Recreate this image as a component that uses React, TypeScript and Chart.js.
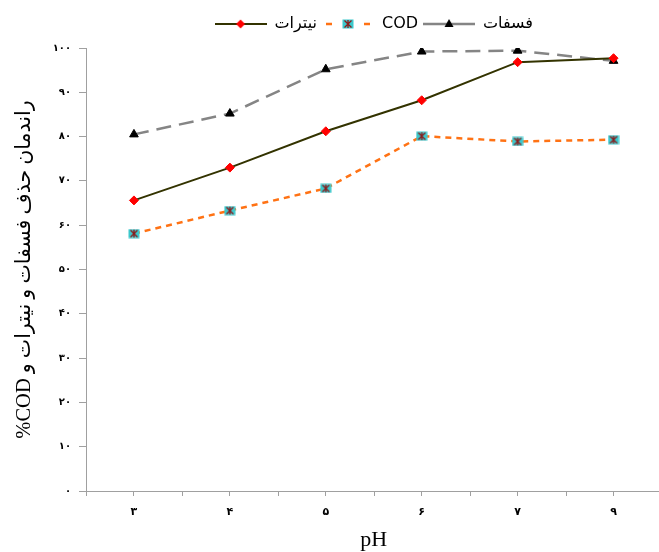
import React, { useEffect, useRef } from 'react';
import { Chart, registerables } from 'chart.js';

Chart.register(...registerables);

const categories = ['۳', '۴', '۵', '۶', '۷', '۹'];
const nitrate = [65.6, 73.0, 81.2, 88.2, 96.8, 97.7];
const cod = [58.1, 63.3, 68.3, 80.1, 78.9, 79.3];
const phosphate = [80.5, 85.2, 95.2, 99.2, 99.4, 97.1];
const seriesNames = ['نیترات', 'COD', 'فسفات'];
const yTickLabels = ['۰', '۱۰', '۲۰', '۳۰', '۴۰', '۵۰', '۶۰', '۷۰', '۸۰', '۹۰', '۱۰۰'];
const xTitle = 'pH';
const yTitle = '\u202Bراندمان حذف فسفات و نیترات و COD%\u202C';

const axisColor = '#a0a0a0';
const nitrateColor = '#333300';
const codColor = '#ff7214';
const phosColor = '#858585';

function makeCanvas(w: number, h: number) {
  const c = document.createElement('canvas');
  c.width = w;
  c.height = h;
  return c;
}

function drawCodMarker(ctx: CanvasRenderingContext2D, cx: number, cy: number) {
  ctx.fillStyle = '#3cc8cc';
  ctx.fillRect(cx - 5.5, cy - 4.5, 11, 9);
  ctx.strokeStyle = '#8b1c1c';
  ctx.lineWidth = 1.3;
  ctx.beginPath();
  ctx.moveTo(cx - 3.5, cy - 3.5);
  ctx.lineTo(cx + 3.5, cy + 3.5);
  ctx.moveTo(cx + 3.5, cy - 3.5);
  ctx.lineTo(cx - 3.5, cy + 3.5);
  ctx.moveTo(cx, cy - 4);
  ctx.lineTo(cx, cy + 4);
  ctx.stroke();
}

function drawDiamond(ctx: CanvasRenderingContext2D, cx: number, cy: number, r: number) {
  ctx.fillStyle = '#ff0000';
  ctx.beginPath();
  ctx.moveTo(cx, cy - r);
  ctx.lineTo(cx + r, cy);
  ctx.lineTo(cx, cy + r);
  ctx.lineTo(cx - r, cy);
  ctx.closePath();
  ctx.fill();
}

function drawTriangle(ctx: CanvasRenderingContext2D, cx: number, cy: number, r: number) {
  ctx.fillStyle = '#000000';
  ctx.beginPath();
  ctx.moveTo(cx, cy - r);
  ctx.lineTo(cx + r, cy + r * 0.8);
  ctx.lineTo(cx - r, cy + r * 0.8);
  ctx.closePath();
  ctx.fill();
}

function makeCodPoint() {
  const c = makeCanvas(12, 10);
  const ctx = c.getContext('2d')!;
  drawCodMarker(ctx, 6, 5);
  return c;
}

function makeLegendSymbol(kind: number) {
  const w = 52;
  const h = 14;
  const c = makeCanvas(w, h);
  const ctx = c.getContext('2d')!;
  const cy = 7;
  ctx.lineWidth = kind === 0 ? 2 : 2.5;
  ctx.strokeStyle = kind === 0 ? nitrateColor : kind === 1 ? codColor : phosColor;
  if (kind === 1) {
    ctx.beginPath();
    ctx.moveTo(4, cy);
    ctx.lineTo(10, cy);
    ctx.moveTo(42, cy);
    ctx.lineTo(48, cy);
    ctx.stroke();
    drawCodMarker(ctx, 26, cy);
  } else {
    ctx.beginPath();
    ctx.moveTo(0, cy);
    ctx.lineTo(w, cy);
    ctx.stroke();
    if (kind === 0) drawDiamond(ctx, 26, cy, 4.5);
    else drawTriangle(ctx, 26, cy - 0.5, 4.5);
  }
  return c;
}

const boundaryTicks = {
  id: 'boundaryTicks',
  afterDraw(chart: any) {
    const s = chart.scales.x;
    const ctx = chart.ctx;
    const p0 = s.getPixelForValue(0);
    const half = (s.getPixelForValue(1) - p0) / 2;
    ctx.save();
    ctx.strokeStyle = axisColor;
    ctx.lineWidth = 1;
    for (let i = 0; i <= categories.length; i++) {
      const x = Math.round(p0 - half + i * 2 * half) + 0.5;
      ctx.beginPath();
      ctx.moveTo(x, s.top);
      ctx.lineTo(x, s.top + 5);
      ctx.stroke();
    }
    ctx.restore();
  },
};

export default function App() {
  const ref = useRef<HTMLCanvasElement>(null);

  useEffect(() => {
    if (!ref.current) return;
    const codPoint = makeCodPoint();
    const legendSymbols = [makeLegendSymbol(0), makeLegendSymbol(1), makeLegendSymbol(2)];

    const chart = new Chart(ref.current, {
      type: 'line',
      data: {
        labels: categories,
        datasets: [
          {
            label: seriesNames[0],
            data: nitrate,
            borderColor: nitrateColor,
            borderWidth: 2,
            pointStyle: 'rectRot',
            pointRadius: 4.5,
            pointBackgroundColor: '#ff0000',
            pointBorderColor: '#ff0000',
            pointBorderWidth: 1,
            tension: 0,
          },
          {
            label: seriesNames[1],
            data: cod,
            borderColor: codColor,
            borderWidth: 2.5,
            borderDash: [6, 5],
            pointStyle: codPoint as any,
            pointRadius: 5,
            tension: 0,
          },
          {
            label: seriesNames[2],
            data: phosphate,
            borderColor: phosColor,
            borderWidth: 2.5,
            borderDash: [15, 8],
            pointStyle: 'triangle',
            pointRadius: 5,
            pointBackgroundColor: '#000000',
            pointBorderColor: '#000000',
            pointBorderWidth: 1,
            tension: 0,
          },
        ],
      },
      options: {
        animation: false,
        responsive: false,
        devicePixelRatio: 1,
        layout: { padding: { top: 11, left: 0, right: 0, bottom: 0 } },
        plugins: {
          tooltip: { enabled: false },
          subtitle: {
            display: true,
            text: '',
            weight: 500,
            position: 'top',
            padding: 0,
            font: { size: 6, lineHeight: 1 },
          } as any,
          legend: {
            display: true,
            position: 'top',
            fullSize: false,
            labels: {
              usePointStyle: true,
              pointStyleWidth: 52,
              padding: 5,
              color: '#000',
              font: { family: "'DejaVu Sans', sans-serif", size: 16 },
              generateLabels: () =>
                seriesNames.map((name, i) => ({
                  text: name,
                  pointStyle: legendSymbols[i] as any,
                  datasetIndex: i,
                  hidden: false,
                  lineWidth: 0,
                  fillStyle: 'transparent',
                  strokeStyle: 'transparent',
                  fontColor: '#000',
                })),
            },
          },
        },
        scales: {
          x: {
            type: 'category',
            offset: true,
            grid: {
              display: true,
              drawOnChartArea: false,
              drawTicks: true,
              tickLength: 5,
              color: axisColor,
              offset: false,
            },
            border: { color: axisColor, width: 1 },
            ticks: {
              color: '#000',
              padding: 10,
              font: { family: "'DejaVu Sans', sans-serif", weight: 'bold', size: 11 },
            },
            title: {
              display: true,
              text: xTitle,
              color: '#000',
              font: { family: "'Liberation Serif', serif", size: 22, lineHeight: 1 },
              padding: { top: 0, bottom: 1 },
            },
            afterFit: (s: any) => {
              s.height = 61;
            },
          },
          y: {
            min: 0,
            max: 100,
            grid: {
              drawOnChartArea: false,
              drawTicks: true,
              tickLength: 7,
              color: axisColor,
            },
            border: { color: axisColor, width: 1 },
            ticks: {
              stepSize: 10,
              color: '#000',
              padding: 8,
              font: { family: "'DejaVu Sans', sans-serif", weight: 'bold', size: 10 },
              callback: (_v: any, i: number) => yTickLabels[i],
            },
            title: {
              display: true,
              text: yTitle,
              color: '#000',
              font: { family: "'Liberation Serif', 'DejaVu Sans', serif", size: 20.5, lineHeight: 1.2 },
              padding: { top: 12, bottom: 0 },
            },
            afterFit: (s: any) => {
              s.width = 86;
            },
          },
        },
      },
      plugins: [boundaryTicks],
    });
    return () => chart.destroy();
  }, []);

  return (
    <div
      style={{
        position: 'absolute',
        left: 0,
        top: 0,
        width: 659,
        height: 552,
        overflow: 'hidden',
        background: '#fff',
      }}
    >
      <canvas ref={ref} width={669} height={552} style={{ display: 'block' }} />
    </div>
  );
}
